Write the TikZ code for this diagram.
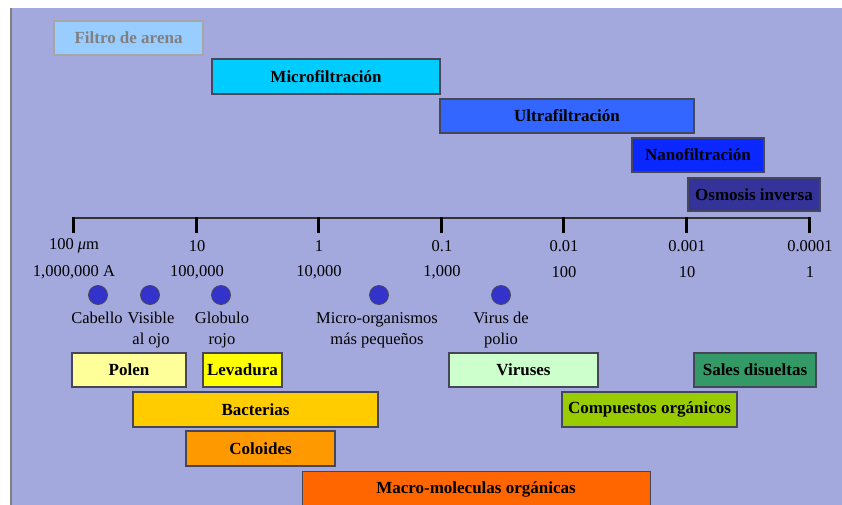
\documentclass[tikz,border=0pt]{standalone}
\usepackage{fontspec}
\setmainfont{Liberation Serif}
\definecolor{bgc}{RGB}{164,169,221}
\definecolor{edgec}{RGB}{70,70,90}
\definecolor{cfiltro}{RGB}{153,204,255}
\definecolor{cmicro}{RGB}{0,204,255}
\definecolor{cultra}{RGB}{51,102,255}
\definecolor{cnano}{RGB}{10,40,255}
\definecolor{cosmo}{RGB}{51,51,153}
\definecolor{cpolen}{RGB}{255,255,153}
\definecolor{clev}{RGB}{255,255,0}
\definecolor{cbact}{RGB}{255,204,0}
\definecolor{ccol}{RGB}{255,153,0}
\definecolor{cmacro}{RGB}{255,102,0}
\definecolor{cvir}{RGB}{204,255,204}
\definecolor{csales}{RGB}{51,153,102}
\definecolor{ccomp}{RGB}{153,204,0}
\definecolor{cdot}{RGB}{51,51,204}
\newcommand\fbar[7]{%
  \node[barbox, fill=#6, minimum width={#4-#2}, minimum height={#5-#3}]
    (#1) at ({(#2+#4)/2},{(#3+#5)/2}) {#7};}
\begin{document}
\begin{tikzpicture}[x=1pt,y=-1pt,
  barbox/.style={draw=edgec, line width=1.1pt, inner sep=0pt, font=\fontsize{17}{20}\selectfont\bfseries},
  lbl/.style={font=\fontsize{16.5}{21}\selectfont, inner sep=0pt, align=center},
  dot/.style={circle, fill=cdot, draw=edgec, line width=0.8pt, minimum size=19pt, inner sep=0pt},
  tick/.style={line width=3pt, black}]
\useasboundingbox (0,0) rectangle (842,505);
\fill[white] (0,0) rectangle (842,505);
\fill[bgc] (10,8) rectangle (842,505);
\draw[gray, line width=1.5pt] (10.75,8) -- (10.75,505);
% top bars
\node[barbox, fill=cfiltro, draw=gray!70, text=gray, minimum width=149, minimum height=34] (filtro) at (128.5,38) {Filtro de arena};
\fbar{micro}{212}{59}{440}{94}{cmicro}{Microfiltración}
\fbar{ultra}{440}{99}{694}{133}{cultra}{Ultrafiltración}
\fbar{nano}{632}{138}{764}{172}{cnano}{Nanofiltración}
\fbar{osmo}{688}{178}{820}{211}{cosmo}{Osmosis inversa}
% axis
\coordinate (a0) at (73,218);
\coordinate (a6) at (809,218);
\draw[line width=1.8pt, black!80] (a0) -- (a6);
\foreach \i/\x/\ta/\tb in {0/73/{100 {\itshape μ}m}/{1,000,000 A},1/196/10/{100,000},2/318/1/{10,000},3/441/0.1/{1,000},4/563/0.01/100,5/686/0.001/10,6/809/0.0001/1}{
  \coordinate (t\i) at (\x,217);
  \draw[tick] (t\i) -- ++(0,16);
  \node[lbl] (m\i) at (\x+1,246) {\ta};
  \node[lbl] (n\i) at (\x+1,272) {\tb};
}
% dots
\node[dot] (d1) at (98,295) {};
\node[dot] (d2) at (150,295) {};
\node[dot] (d3) at (221,295) {};
\node[dot] (d4) at (379,295) {};
\node[dot] (d5) at (501,295) {};
\node[lbl, anchor=north] (l1) at (97,312) {Cabello};
\node[lbl, anchor=north] (l2) at (151,312) {Visible\\al ojo};
\node[lbl, anchor=north] (l3) at (222,312) {Globulo\\rojo};
\node[lbl, anchor=north] (l4) at (377,312) {Micro-organismos\\más pequeños};
\node[lbl, anchor=north] (l5) at (501,312) {Virus de\\polio};
% bottom bars
\fbar{polen}{72}{353}{186}{387}{cpolen}{Polen}
\fbar{lev}{203}{353}{282}{387}{clev}{Levadura}
\fbar{vir}{449}{353}{598}{387}{cvir}{Viruses}
\fbar{sales}{694}{353}{816}{387}{csales}{Sales disueltas}
\fbar{bact}{133}{392}{378}{427}{cbact}{Bacterias}
\fbar{comp}{562}{392}{737}{427}{ccomp}{Compuestos orgánicos}
\fbar{col}{186}{431}{335}{466}{ccol}{Coloides}
\node[barbox, fill=cmacro, minimum width=348, minimum height=40, anchor=north west] (macro) at (302,471) {};
\node[font=\fontsize{17}{20}\selectfont\bfseries, inner sep=0pt] (macrot) at (476,489) {Macro-moleculas orgánicas};
\end{tikzpicture}
\end{document}
